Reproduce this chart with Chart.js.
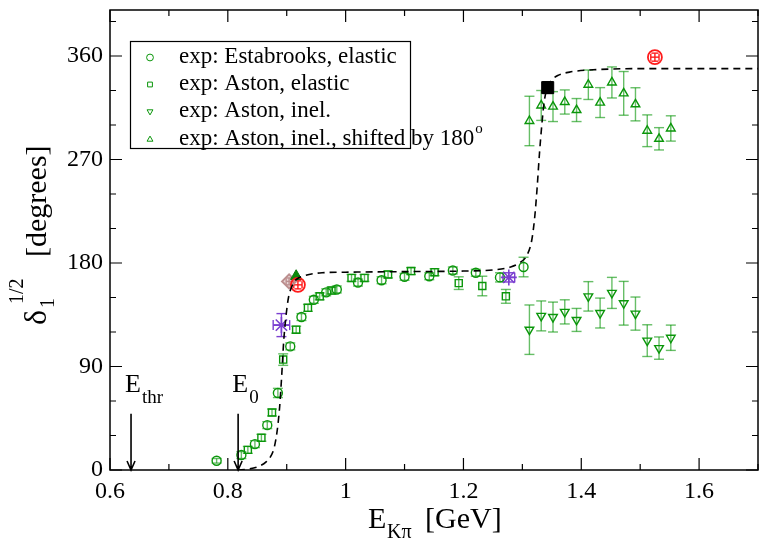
<!DOCTYPE html>
<html>
<head>
<meta charset="utf-8">
<script src="https://cdn.jsdelivr.net/npm/chart.js@4.4.1/dist/chart.umd.min.js"></script>
<style>
  html, body { margin: 0; padding: 0; background: #fff; }
  #wrap { position: relative; width: 759px; height: 541px; }
</style>
</head>
<body>
<div id="wrap"><canvas id="c" width="759" height="541"></canvas></div>
<script>
// values (E in GeV, phase in degrees)
const estabX = [0.781, 0.823, 0.846, 0.867, 0.885, 0.906, 0.925, 0.946, 0.967, 0.985, 1.021, 1.061, 1.100, 1.142, 1.182, 1.221, 1.262, 1.302];
const estabY = [8, 13, 22.5, 39, 67, 107.5, 133, 148, 154.5, 157, 163, 165, 168, 168.5, 173.5, 171.5, 167.5, 176.5];
const estabErr = [2, 3, 3, 3, 4, 3, 3, 3, 3, 3, 3, 3, 3, 3, 3, 3, 4, 8.5];

const astonElX = [0.834, 0.857, 0.875, 0.894, 0.916, 0.936, 0.956, 0.976, 1.010, 1.032, 1.072, 1.111, 1.151, 1.192, 1.232, 1.272];
const astonElY = [17.5, 28, 50, 96, 122, 141, 151, 156, 167, 167, 170, 173, 172, 162.5, 160, 151];
const astonElErr = [3, 3, 3, 5, 3, 3, 3, 3, 3, 3, 3, 3, 3, 5.5, 8.5, 6];

const astonInX = [1.312, 1.332, 1.352, 1.372, 1.392, 1.412, 1.432, 1.452, 1.472, 1.492, 1.512, 1.532, 1.552];
const astonInY = [122, 134, 133, 137.5, 130.5, 151, 136.5, 154, 145, 136, 112.5, 106, 115];
const astonInErr = [21.5, 13, 13, 10.5, 10, 12.8, 13, 13.5, 19, 14.4, 13.8, 9.7, 11];
const astonShY = [303.5, 317, 316, 320, 313, 335, 319.5, 337, 327.5, 318, 295, 288, 297];

const curveX = [0.817, 0.835, 0.852, 0.865, 0.873, 0.879, 0.884, 0.888, 0.891, 0.895, 0.899, 0.903, 0.909, 0.916, 0.930, 0.960, 1.0, 1.1, 1.2, 1.25, 1.28, 1.295, 1.308, 1.316, 1.321, 1.325, 1.329, 1.333, 1.337, 1.342, 1.35, 1.36, 1.38, 1.42, 1.5, 1.6, 1.7];
const curveY = [0, 0.8, 3, 7, 12, 20, 35, 55, 78, 113, 135, 150, 160, 165.5, 169, 171.5, 172, 172.5, 173, 174, 176.5, 180, 187, 200, 220, 245, 275, 300, 320, 332, 339, 343, 346, 348, 349, 349, 349];

const starX = [0.891, 1.277];
const starY = [126, 167.5];
const starErrX = [0.014, 0.01];
const starErrY = [10, 4];
const redX = [0.919, 1.525];
const redY = [161, 359];
const diamondPt = [0.904, 164];
const triPt = [0.916, 168.5];
const blackPt = [1.343, 332.5];

const Ethr = 0.6357, E0 = 0.8175;

const xTicks = [0.6, 0.8, 1.0, 1.2, 1.4, 1.6];
const yTicks = [0, 90, 180, 270, 360];

const pts = (xs, ys) => xs.map((x, i) => ({ x: x, y: ys[i] }));
const FONT = '"Liberation Serif"';
const GREEN = '#0a960a';
const GREEN_ERR = 'rgba(10,150,10,0.62)';

const errorBars = {
  id: 'errorBars',
  beforeDatasetsDraw(chart) {
    const ctx = chart.ctx, xs = chart.scales.x, ys = chart.scales.y;
    const ln = (a, b, c, d) => { ctx.beginPath(); ctx.moveTo(a, b); ctx.lineTo(c, d); ctx.stroke(); };
    chart.data.datasets.forEach(ds => {
      if (!ds.errY && !ds.errX) return;
      ctx.save();
      ctx.strokeStyle = ds.errColor || ds.borderColor;
      ctx.lineWidth = 1.4;
      const cap = ds.capW || 5;
      ds.data.forEach((p, i) => {
        const px = xs.getPixelForValue(p.x), py = ys.getPixelForValue(p.y);
        if (ds.errY && ds.errY[i]) {
          const t = ys.getPixelForValue(p.y + ds.errY[i]), b = ys.getPixelForValue(p.y - ds.errY[i]);
          ln(px, t, px, b); ln(px - cap, t, px + cap, t); ln(px - cap, b, px + cap, b);
        }
        if (ds.errX && ds.errX[i]) {
          const l = xs.getPixelForValue(p.x - ds.errX[i]), r = xs.getPixelForValue(p.x + ds.errX[i]);
          ln(l, py, r, py); ln(l, py - cap, l, py + cap); ln(r, py - cap, r, py + cap);
        }
      });
      ctx.restore();
    });
  }
};

const frame = {
  id: 'frame',
  afterDatasetsDraw(chart) {
    const ctx = chart.ctx, a = chart.chartArea, xs = chart.scales.x, ys = chart.scales.y;
    ctx.save();
    ctx.strokeStyle = '#000';
    ctx.lineWidth = 1.5;
    ctx.strokeRect(a.left, a.top, a.right - a.left, a.bottom - a.top);
    ctx.lineWidth = 1.2;
    xs.ticks.forEach(t => {
      const px = xs.getPixelForValue(t.value);
      const len = xTicks.some(v => Math.abs(v - t.value) < 1e-6) ? 12 : 6;
      ctx.beginPath();
      ctx.moveTo(px, a.bottom); ctx.lineTo(px, a.bottom - len);
      ctx.moveTo(px, a.top); ctx.lineTo(px, a.top + len);
      ctx.stroke();
    });
    ys.ticks.forEach(t => {
      const py = ys.getPixelForValue(t.value);
      const len = yTicks.includes(t.value) ? 12 : 6;
      ctx.beginPath();
      ctx.moveTo(a.left, py); ctx.lineTo(a.left + len, py);
      ctx.moveTo(a.right, py); ctx.lineTo(a.right - len, py);
      ctx.stroke();
    });
    ctx.restore();
  }
};

const annotations = {
  id: 'annotations',
  afterDraw(chart) {
    const ctx = chart.ctx, xs = chart.scales.x, ys = chart.scales.y;
    ctx.save();
    ctx.fillStyle = '#000';
    ctx.strokeStyle = '#000';
    ctx.textBaseline = 'alphabetic';

    // threshold arrows
    [[Ethr, 'thr'], [E0, '0']].forEach(([e, sub]) => {
      const px = xs.getPixelForValue(e);
      const top = ys.getPixelForValue(49), bot = ys.getPixelForValue(0);
      ctx.lineWidth = 1.6;
      ctx.beginPath();
      ctx.moveTo(px, top); ctx.lineTo(px, bot);
      ctx.moveTo(px - 4, bot - 9); ctx.lineTo(px, bot); ctx.lineTo(px + 4, bot - 9);
      ctx.stroke();
      ctx.font = '26px ' + FONT;
      ctx.textAlign = 'left';
      ctx.fillText('E', px - 6, 392);
      ctx.font = '19px ' + FONT;
      ctx.fillText(sub, px + 11, 403);
    });

    // legend
    const L = { x: 130.5, y: 41.5, w: 280, h: 107 };
    ctx.fillStyle = '#fff';
    ctx.fillRect(L.x, L.y, L.w, L.h);
    ctx.lineWidth = 1.2;
    ctx.strokeRect(L.x, L.y, L.w, L.h);
    const rows = [
      ['circle', 0, 'exp: Estabrooks, elastic', 63],
      ['rect', 0, 'exp: Aston, elastic', 90],
      ['triangle', 180, 'exp: Aston, inel.', 117],
      ['triangle', 0, 'exp: Aston, inel., shifted by 180', 145]
    ];
    rows.forEach(([st, rot, txt, base], i) => {
      ctx.strokeStyle = GREEN;
      ctx.fillStyle = 'rgba(0,0,0,0)';
      ctx.lineWidth = 1;
      Chart.helpers.drawPoint(ctx, { pointStyle: st, rotation: rot, radius: 3.4, borderWidth: 1 }, 150, base - 5.5);
      ctx.fillStyle = '#000';
      ctx.font = '23px ' + FONT;
      ctx.textAlign = 'left';
      ctx.fillText(txt, 179, base);
      if (i === 3) {
        const w = ctx.measureText(txt).width;
        ctx.font = '15px ' + FONT;
        ctx.fillText('o', 179 + w + 1, base - 12);
      }
    });

    // x title
    ctx.fillStyle = '#000';
    ctx.textAlign = 'left';
    ctx.font = '30px ' + FONT;
    ctx.fillText('E', 368, 528);
    ctx.font = '20px ' + FONT;
    ctx.fillText('K\u03c0', 387, 538);
    ctx.font = '30px ' + FONT;
    ctx.fillText('[GeV]', 425, 528);

    // y title (rotated)
    ctx.translate(46, 325);
    ctx.rotate(-Math.PI / 2);
    ctx.font = '32px ' + FONT;
    ctx.fillText('\u03b4', 0, 0);
    ctx.font = '20px ' + FONT;
    ctx.fillText('1', 17, 8);
    ctx.fillText('1/2', 21, -23);
    ctx.font = '30px ' + FONT;
    ctx.fillText('[degrees]', 68, 0);
    ctx.restore();
  }
};

new Chart(document.getElementById('c'), {
  type: 'scatter',
  data: {
    datasets: [
      { label: 'curve', data: pts(curveX, curveY), showLine: true, pointRadius: 0,
        borderColor: '#000', borderWidth: 1.6, borderDash: [7, 5], cubicInterpolationMode: 'monotone' },
      { label: 'red', data: pts(redX, redY), pointStyle: 'circle', pointRadius: 7,
        borderColor: '#ff1a1a', backgroundColor: 'rgba(0,0,0,0)', borderWidth: 1.8,
        errY: [3.5, 3.5], errX: [0.007, 0.007], capW: 3.5, errColor: '#ff1a1a' },
      { label: 'black', data: [{ x: blackPt[0], y: blackPt[1] }], pointStyle: 'rect', pointRadius: 8.5,
        borderColor: '#000', backgroundColor: '#000', borderWidth: 1,
        errY: [5], errX: [0.008], capW: 5, errColor: '#000' },
      { label: 'tri', data: [{ x: triPt[0], y: triPt[1] }], pointStyle: 'triangle', pointRadius: 6.5,
        borderColor: '#0a7a0a', backgroundColor: '#0a8a0a', borderWidth: 1 },
      { label: 'diamond', data: [{ x: diamondPt[0], y: diamondPt[1] }], pointStyle: 'rectRot', pointRadius: 7,
        borderColor: '#bc8f8f', backgroundColor: 'rgba(188,143,143,0.35)', borderWidth: 2,
        errY: [3], errX: [0.005], capW: 3, errColor: '#bc8f8f' },
      { label: 'stars', data: pts(starX, starY), pointStyle: 'star', pointRadius: 8,
        borderColor: '#7b3fd0', backgroundColor: '#7b3fd0', borderWidth: 1.6,
        errY: starErrY, errX: starErrX, capW: 5, errColor: '#7b3fd0' },
      { label: 'exp: Estabrooks, elastic', data: pts(estabX, estabY), pointStyle: 'circle', pointRadius: 4.5,
        borderColor: GREEN, backgroundColor: 'rgba(0,0,0,0)', borderWidth: 1.4, errY: estabErr, errColor: GREEN_ERR },
      { label: 'exp: Aston, elastic', data: pts(astonElX, astonElY), pointStyle: 'rect', pointRadius: 5,
        borderColor: GREEN, backgroundColor: 'rgba(0,0,0,0)', borderWidth: 1.4, errY: astonElErr, errColor: GREEN_ERR },
      { label: 'exp: Aston, inel.', data: pts(astonInX, astonInY), pointStyle: 'triangle', rotation: 180, pointRadius: 5,
        borderColor: GREEN, backgroundColor: 'rgba(0,0,0,0)', borderWidth: 1.4, errY: astonInErr, errColor: GREEN_ERR },
      { label: 'exp: Aston, inel., shifted by 180°', data: pts(astonInX, astonShY), pointStyle: 'triangle', pointRadius: 5,
        borderColor: GREEN, backgroundColor: 'rgba(0,0,0,0)', borderWidth: 1.4, errY: astonInErr, errColor: GREEN_ERR }
    ]
  },
  options: {
    responsive: false,
    animation: false,
    layout: { autoPadding: false, padding: { top: 10, right: 1, left: 0, bottom: 0 } },
    plugins: { legend: { display: false }, tooltip: { enabled: false } },
    scales: {
      x: {
        type: 'linear', min: 0.6, max: 1.7,
        grid: { display: false, drawTicks: false },
        border: { display: false },
        afterFit: s => { s.height = 71; s.paddingLeft = 0; s.paddingRight = 0; },
        ticks: {
          stepSize: 0.1, includeBounds: false, autoSkip: false, maxRotation: 0, padding: 7,
          color: '#000', font: { family: FONT, size: 24 },
          callback: v => xTicks.some(t => Math.abs(t - v) < 1e-6) ? String(+v.toFixed(1)) : ''
        }
      },
      y: {
        type: 'linear', min: 0, max: 400,
        grid: { display: false, drawTicks: false },
        border: { display: false },
        afterFit: s => { s.width = 110; s.paddingTop = 0; s.paddingBottom = 0; },
        ticks: {
          stepSize: 30, includeBounds: false, autoSkip: false, padding: 7,
          color: '#000', font: { family: FONT, size: 24 },
          callback: v => yTicks.includes(v) ? String(v) : ''
        }
      }
    }
  },
  plugins: [errorBars, frame, annotations]
});
</script>
</body>
</html>
